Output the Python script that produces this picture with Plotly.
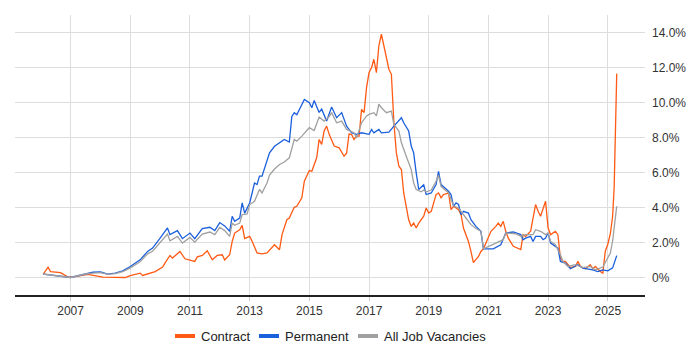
import plotly.graph_objects as go

# ---------------- data ----------------
contract_dates = [
    "2006-02", "2006-04", "2006-05", "2006-07", "2006-09", "2006-12", "2007-03", "2007-08",
    "2008-02", "2008-11", "2009-01", "2009-05", "2009-06", "2009-11", "2010-02", "2010-03",
    "2010-05", "2010-06", "2010-09", "2010-11", "2011-01", "2011-03", "2011-04", "2011-06",
    "2011-08", "2011-10", "2011-12", "2012-02", "2012-03", "2012-05", "2012-06", "2012-07",
    "2012-09", "2012-10", "2012-11", "2013-01", "2013-02", "2013-04", "2013-06", "2013-08",
    "2013-11", "2014-01", "2014-02", "2014-04", "2014-05", "2014-07", "2014-08", "2014-10",
    "2014-11", "2015-01", "2015-02", "2015-04", "2015-05", "2015-06", "2015-07", "2015-08",
    "2015-09", "2015-11", "2016-01", "2016-03", "2016-04", "2016-05", "2016-06", "2016-07",
    "2016-08", "2016-09", "2016-10", "2016-11", "2016-12", "2017-01", "2017-02", "2017-03",
    "2017-04", "2017-05", "2017-06", "2017-07", "2017-09", "2017-10", "2017-11", "2017-12",
    "2018-01", "2018-02", "2018-03", "2018-05", "2018-06", "2018-07", "2018-08", "2018-09",
    "2018-11", "2018-12", "2019-01", "2019-02", "2019-04", "2019-05", "2019-06", "2019-07",
    "2019-09", "2019-10", "2019-11", "2020-01", "2020-02", "2020-03", "2020-05", "2020-06",
    "2020-07", "2020-09", "2020-10", "2020-11", "2021-01", "2021-02", "2021-04", "2021-05",
    "2021-06", "2021-07", "2021-08", "2021-09", "2021-11", "2022-02", "2022-03", "2022-04",
    "2022-06", "2022-08", "2022-09", "2022-10", "2022-12", "2023-01", "2023-02", "2023-04",
    "2023-05", "2023-06", "2023-07", "2023-08", "2023-10", "2023-12", "2024-01", "2024-02",
    "2024-04", "2024-06", "2024-07", "2024-08", "2024-10", "2024-11", "2024-12", "2025-01",
    "2025-02", "2025-03", "2025-03-20", "2025-04-20",
]
contract = [
    0.19, 0.59, 0.34, 0.30, 0.28, 0.02, 0.05, 0.18,
    0.02, 0.00, 0.11, 0.25, 0.12, 0.34, 0.60, 0.82,
    1.26, 1.11, 1.49, 1.07, 1.00, 0.92, 1.18, 1.26,
    1.53, 1.01, 1.26, 1.30, 1.00, 1.30, 2.06, 2.54,
    2.73, 2.98, 2.22, 2.35, 2.06, 1.40, 1.35, 1.40,
    1.87, 1.59, 2.45, 3.30, 3.40, 4.01, 4.07, 4.55,
    5.50, 6.11, 6.07, 6.84, 7.89, 7.60, 8.37, 8.65,
    8.18, 7.51, 7.41, 6.93, 7.10, 8.20, 8.18, 7.89,
    8.08, 8.08, 9.61, 9.42, 10.85, 11.71, 12.00, 12.47,
    11.71, 13.24, 13.90, 13.24, 11.90, 11.61, 8.84, 7.12,
    6.36, 6.17, 4.83, 3.30, 2.92, 3.11, 2.83, 3.11,
    3.50, 3.97, 3.68, 3.78, 4.74, 4.83, 4.55, 4.74,
    4.83, 3.88, 4.07, 3.88, 3.59, 2.83, 2.06, 1.49,
    0.85, 1.20, 1.49, 1.64, 2.35, 2.64, 2.92, 3.11,
    2.92, 3.21, 2.64, 2.25, 1.78, 1.59, 2.45, 2.35,
    2.64, 4.17, 3.78, 3.50, 4.36, 2.83, 2.45, 2.64,
    2.45, 1.11, 0.92, 0.92, 0.57, 0.63, 0.92, 0.63,
    0.50, 0.73, 0.50, 0.63, 0.34, 0.25, 1.50, 1.90,
    2.50, 3.50, 5.20, 11.65,
]

permanent_dates = [
    "2006-02", "2006-06", "2006-10", "2007-01", "2007-04", "2007-07", "2007-10", "2008-01",
    "2008-04", "2008-07", "2008-10", "2009-01", "2009-05", "2009-08", "2009-10", "2010-01",
    "2010-04", "2010-05", "2010-08", "2010-10", "2011-01", "2011-03", "2011-06", "2011-09",
    "2011-11", "2012-01", "2012-03", "2012-05", "2012-06", "2012-07", "2012-09", "2012-10",
    "2012-11", "2013-01", "2013-03", "2013-04", "2013-05", "2013-06", "2013-07", "2013-08",
    "2013-09", "2013-11", "2014-01", "2014-03", "2014-05", "2014-06", "2014-07", "2014-08",
    "2014-11", "2015-01", "2015-02", "2015-03", "2015-05", "2015-06", "2015-08", "2015-10",
    "2015-12", "2016-02", "2016-04", "2016-06", "2016-08", "2016-10", "2017-01", "2017-02",
    "2017-03", "2017-05", "2017-06", "2017-09", "2017-11", "2018-01", "2018-02", "2018-03",
    "2018-05", "2018-06", "2018-07", "2018-08", "2018-09", "2018-11", "2018-12", "2019-02",
    "2019-04", "2019-05", "2019-06", "2019-09", "2019-10", "2019-11", "2019-12", "2020-01",
    "2020-02", "2020-03", "2020-05", "2020-06", "2020-08", "2020-10", "2020-11", "2021-01",
    "2021-03", "2021-06", "2021-07", "2021-08", "2021-11", "2022-02", "2022-03", "2022-04",
    "2022-06", "2022-07", "2022-08", "2022-10", "2022-11", "2022-12", "2023-01", "2023-02",
    "2023-04", "2023-05", "2023-06", "2023-08", "2023-10", "2024-01", "2024-03", "2024-05",
    "2024-07", "2024-09", "2024-11", "2025-01", "2025-03", "2025-04-20",
]
permanent = [
    0.19, 0.12, 0.05, 0.00, 0.10, 0.22, 0.30, 0.32,
    0.19, 0.25, 0.38, 0.63, 1.01, 1.49, 1.68, 2.25,
    2.83, 2.45, 2.68, 2.22, 2.54, 2.22, 2.79, 2.87,
    2.68, 3.14, 2.95, 2.64, 3.50, 3.21, 3.40, 4.26,
    3.68, 4.26, 5.40, 5.31, 5.79, 5.79, 6.26, 6.74,
    7.12, 7.50, 7.70, 7.89, 7.74, 9.20, 9.42, 9.30,
    10.18, 9.99, 9.70, 10.12, 9.43, 9.62, 8.94, 9.74,
    9.13, 9.42, 8.65, 8.27, 8.18, 8.27, 8.18, 8.46,
    8.27, 8.46, 8.27, 8.31, 8.65, 8.94, 9.13, 8.84,
    8.37, 7.51, 7.12, 5.98, 5.03, 5.30, 4.74, 4.83,
    5.31, 6.07, 5.31, 4.93, 4.74, 4.07, 4.26, 4.17,
    3.59, 3.78, 3.68, 3.30, 2.92, 2.64, 1.64, 1.64,
    1.64, 1.87, 2.16, 2.54, 2.60, 2.45, 2.16, 2.25,
    2.35, 2.06, 2.35, 2.35, 2.16, 2.25, 2.54, 1.97,
    1.78, 1.68, 0.92, 0.82, 0.50, 0.73, 0.53, 0.50,
    0.44, 0.34, 0.44, 0.38, 0.55, 1.25,
]

all_dates = [
    "2006-02", "2006-06", "2006-10", "2007-01", "2007-04", "2007-07", "2007-10", "2008-01",
    "2008-04", "2008-07", "2008-10", "2009-01", "2009-05", "2009-08", "2009-10", "2010-01",
    "2010-04", "2010-05", "2010-08", "2010-10", "2011-01", "2011-03", "2011-06", "2011-09",
    "2011-11", "2012-01", "2012-03", "2012-05", "2012-06", "2012-07", "2012-09", "2012-10",
    "2012-12", "2013-01", "2013-03", "2013-05", "2013-06", "2013-08", "2013-09", "2013-11",
    "2014-01", "2014-03", "2014-05", "2014-07", "2014-08", "2014-10", "2015-01", "2015-03",
    "2015-05", "2015-07", "2015-09", "2015-10", "2015-12", "2016-02", "2016-04", "2016-07",
    "2016-08", "2016-10", "2016-12", "2017-01", "2017-03", "2017-04", "2017-05", "2017-06",
    "2017-08", "2017-10", "2017-11", "2018-01", "2018-02", "2018-04", "2018-06", "2018-07",
    "2018-08", "2018-10", "2018-11", "2018-12", "2019-02", "2019-04", "2019-05", "2019-06",
    "2019-09", "2019-11", "2020-01", "2020-04", "2020-06", "2020-08", "2020-10", "2020-11",
    "2021-01", "2021-04", "2021-07", "2021-08", "2021-12", "2022-02", "2022-04", "2022-07",
    "2022-08", "2022-10", "2022-12", "2023-01", "2023-02", "2023-04", "2023-06", "2023-07",
    "2023-09", "2023-12", "2024-03", "2024-06", "2024-08", "2024-11", "2024-12", "2025-01",
    "2025-02", "2025-03", "2025-04", "2025-04-20",
]
all_jobs = [
    0.20, 0.12, 0.05, 0.00, 0.10, 0.20, 0.25, 0.28,
    0.18, 0.22, 0.33, 0.55, 0.90, 1.35, 1.50, 2.02,
    2.48, 2.10, 2.35, 1.97, 2.29, 2.02, 2.48, 2.60,
    2.45, 2.87, 2.68, 2.35, 3.11, 2.98, 3.11, 3.59,
    3.63, 4.17, 4.36, 5.03, 4.83, 5.40, 5.85, 6.20,
    6.46, 6.60, 6.84, 7.89, 7.79, 8.08, 8.56, 8.40,
    9.17, 8.94, 9.20, 9.42, 8.84, 8.94, 8.46, 8.27,
    7.98, 8.84, 9.23, 9.32, 9.42, 9.23, 9.90, 9.70,
    9.42, 9.51, 8.75, 8.37, 7.70, 6.93, 6.17, 5.40,
    5.03, 4.90, 5.00, 4.90, 5.00, 5.50, 5.85, 5.21,
    4.83, 4.10, 3.97, 3.40, 3.02, 2.80, 2.64, 1.64,
    1.78, 1.97, 2.16, 2.54, 2.50, 2.35, 2.45, 2.45,
    2.73, 2.64, 2.45, 2.54, 2.06, 1.87, 1.30, 0.92,
    0.63, 0.73, 0.57, 0.63, 0.44, 0.60, 0.85, 1.15,
    1.40, 2.10, 3.30, 4.07,
]

y_tick_values = [0, 2, 4, 6, 8, 10, 12, 14]
y_tick_labels = ["0%", "2.0%", "4.0%", "6.0%", "8.0%", "10.0%", "12.0%", "14.0%"]

series_names = ["Contract", "Permanent", "All Job Vacancies"]
series_colors = ["#ff5a14", "#1a5fdc", "#a0a0a0"]
series_dates = [contract_dates, permanent_dates, all_dates]
series_values = [contract, permanent, all_jobs]

# ---------------- figure ----------------
fig = go.Figure()
for name, xs, ys, color in zip(series_names, series_dates, series_values, series_colors):
    fig.add_trace(go.Scatter(
        x=xs, y=ys, mode="lines", name=name, showlegend=False,
        line=dict(color=color, width=1.3), hoverinfo="skip",
    ))

# ---- legend drawn below the plot (short thick swatch + label) ----
W, H, ML, MB = 700, 350, 15, 55
PW, PH = W - ML - 55, H - 15 - MB
legend_swatch_left_px = [175, 259, 358]   # page pixels
legend_y_px = 336


def px_x(px):
    return (px - ML) / PW


def px_y(py):
    return (H - MB - py) / PH


for name, color, sx in zip(series_names, series_colors, legend_swatch_left_px):
    fig.add_shape(
        type="line", xref="paper", yref="paper",
        x0=px_x(sx), x1=px_x(sx + 20), y0=px_y(legend_y_px), y1=px_y(legend_y_px),
        line=dict(color=color, width=4),
    )
    fig.add_annotation(
        xref="paper", yref="paper", x=px_x(sx + 24), y=px_y(legend_y_px),
        xanchor="left", yanchor="middle", showarrow=False,
        text=name, font=dict(size=13, color="#222222"),
    )

font_family = "Liberation Sans, Arial, sans-serif"
fig.update_layout(
    width=W, height=H,
    margin=dict(l=ML, r=55, t=15, b=MB, autoexpand=False),
    paper_bgcolor="white", plot_bgcolor="white",
    font=dict(family=font_family, size=12, color="#333333"),
    showlegend=False,
    xaxis=dict(
        type="date", automargin=False,
        range=["2005-02-20", "2026-04-01"],
        tick0="2007-01-01", dtick="M24", tickformat="%Y",
        showgrid=True, gridcolor="#dddddd", gridwidth=1,
        showline=True, linecolor="#222222", linewidth=1.5,
        ticks="outside", ticklen=4, tickcolor="#cccccc",
        tickfont=dict(size=12, color="#333333"),
        zeroline=False,
    ),
    yaxis=dict(
        side="right", range=[-1, 15], automargin=False,
        tickvals=y_tick_values, ticktext=y_tick_labels,
        showgrid=True, gridcolor="#dddddd", gridwidth=1,
        showline=False, zeroline=False, ticks="",
        ticklabelstandoff=6,
        tickfont=dict(size=12, color="#333333"),
    ),
)

fig.write_html(
    "out.html",
    config={"displayModeBar": False},
    post_script="document.body.style.margin='0';document.body.style.padding='0';",
)
